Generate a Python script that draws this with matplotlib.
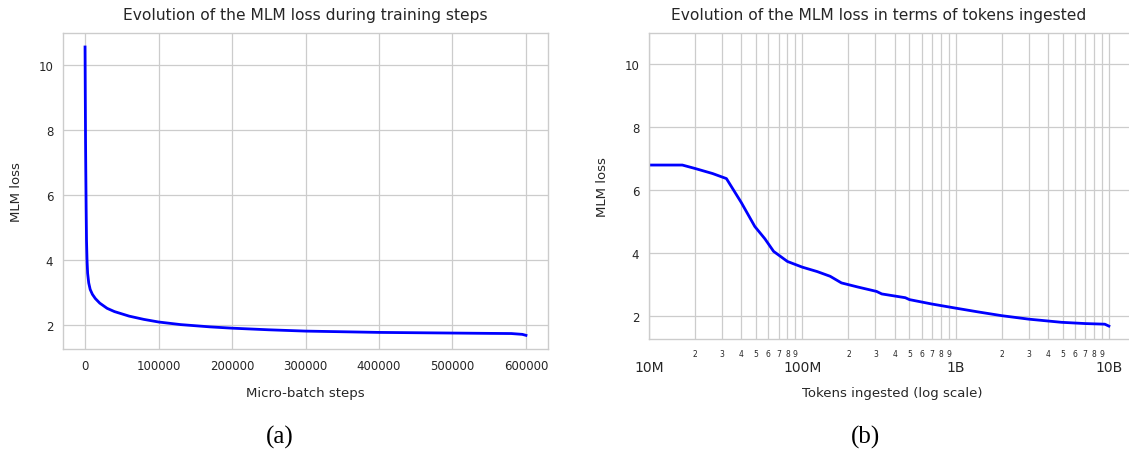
import numpy as np
import matplotlib.pyplot as plt
from matplotlib.ticker import FixedLocator, FixedFormatter, LogLocator, FuncFormatter

# Loss vs micro-batch steps (panel a)
steps = [0, 300, 700, 1000, 1500, 2000, 2700, 3500, 5000, 7000, 10000, 14000,
         20000, 25000, 30000, 40000, 50000, 60000, 80000, 100000, 130000,
         170000, 200000, 250000, 300000, 350000, 400000, 450000, 500000,
         550000, 580000, 595000, 600000]
loss_steps = [10.55, 9.2, 7.6, 6.8, 5.6, 4.6, 4.0, 3.6, 3.3, 3.1, 2.95, 2.82,
              2.68, 2.6, 2.52, 2.42, 2.35, 2.28, 2.18, 2.1, 2.02,
              1.95, 1.91, 1.86, 1.82, 1.80, 1.78, 1.77, 1.76,
              1.75, 1.745, 1.72, 1.69]

# Loss vs tokens ingested (panel b)
tokens = [1.0e7, 1.65e7, 2.0e7, 2.6e7, 3.2e7, 4.0e7, 4.9e7, 5.7e7, 6.5e7,
          8.0e7, 1.0e8, 1.25e8, 1.52e8, 1.8e8, 2.3e8, 3.05e8, 3.3e8, 4.7e8,
          5.0e8, 7.0e8, 1.0e9, 1.4e9, 2.0e9, 3.0e9, 4.9e9, 7.0e9, 9.4e9, 1.0e10]
loss_tokens = [6.79, 6.79, 6.68, 6.52, 6.36, 5.6, 4.84, 4.45, 4.05,
               3.73, 3.55, 3.41, 3.26, 3.05, 2.92, 2.78, 2.70, 2.58,
               2.52, 2.38, 2.25, 2.13, 2.01, 1.90, 1.80, 1.76, 1.74, 1.68]

major_ticks = [1e7, 1e8, 1e9, 1e10]
major_labels = ['10M', '100M', '1B', '10B']

plt.rcParams.update({
    'font.family': 'DejaVu Sans',
    'text.color': '#262626',
    'axes.labelcolor': '#262626',
    'xtick.color': '#262626',
    'ytick.color': '#262626',
    'axes.edgecolor': '#cccccc',
    'grid.color': '#cccccc',
    'grid.linewidth': 0.9,
    'axes.linewidth': 1.0,
    'xtick.major.size': 0,
    'ytick.major.size': 0,
    'xtick.minor.size': 0,
    'ytick.minor.size': 0,
})

W, H = 1129, 452
fig = plt.figure(figsize=(W / 100, H / 100), dpi=100)

def px_axes(x0, y0, x1, y1):
    return fig.add_axes([x0 / W, 1 - y1 / H, (x1 - x0) / W, (y1 - y0) / H])

ylim = (1.27, 10.98)

# Panel (a)
ax1 = px_axes(63, 34, 548, 350)
ax1.plot(steps, loss_steps, color='#0000ff', lw=2)
ax1.set_ylim(*ylim)
ax1.set_xticks(np.arange(0, 600001, 100000))
ax1.set_yticks([2, 4, 6, 8, 10])
ax1.grid(True)
ax1.tick_params(labelsize=8.5, pad=7)
ax1.set_title('Evolution of the MLM loss during training steps', fontsize=11.2, pad=10)
ax1.set_xlabel('Micro-batch steps', fontsize=9.5, labelpad=10)
ax1.set_ylabel('MLM loss', fontsize=9.5, labelpad=11)

# Panel (b)
ax2 = px_axes(649, 34, 1135, 340)
ax2.plot(tokens, loss_tokens, color='#0000ff', lw=2)
ax2.set_xscale('log')
ax2.set_xlim(1e7, 1.48e10)
ax2.set_ylim(*ylim)
ax2.set_yticks([2, 4, 6, 8, 10])
ax2.xaxis.set_major_locator(FixedLocator(major_ticks))
ax2.xaxis.set_major_formatter(FixedFormatter(major_labels))
ax2.xaxis.set_minor_locator(LogLocator(base=10, subs=np.arange(2, 10)))
ax2.xaxis.set_minor_formatter(FuncFormatter(lambda v, p: str(int(round(v / 10 ** np.floor(np.log10(v)))))))
ax2.grid(True, which='both')
ax2.tick_params(axis='y', labelsize=8.5, pad=7)
ax2.tick_params(axis='x', which='major', labelsize=10, pad=15)
ax2.tick_params(axis='x', which='minor', labelsize=5.5, pad=7)
ax2.set_title('Evolution of the MLM loss in terms of tokens ingested', fontsize=11.2, pad=10)
ax2.set_xlabel('Tokens ingested (log scale)', fontsize=9.5, labelpad=9)
ax2.set_ylabel('MLM loss', fontsize=9.5, labelpad=11)
ax2.title.set_position((0.473, 1))

fig.text(280 / W, 1 - 437 / H, '(a)', fontsize=18, family='Liberation Serif', ha='center', va='center', color='black')
fig.text(865 / W, 1 - 437 / H, '(b)', fontsize=18, family='Liberation Serif', ha='center', va='center', color='black')

fig.savefig('out.png', dpi=100)
